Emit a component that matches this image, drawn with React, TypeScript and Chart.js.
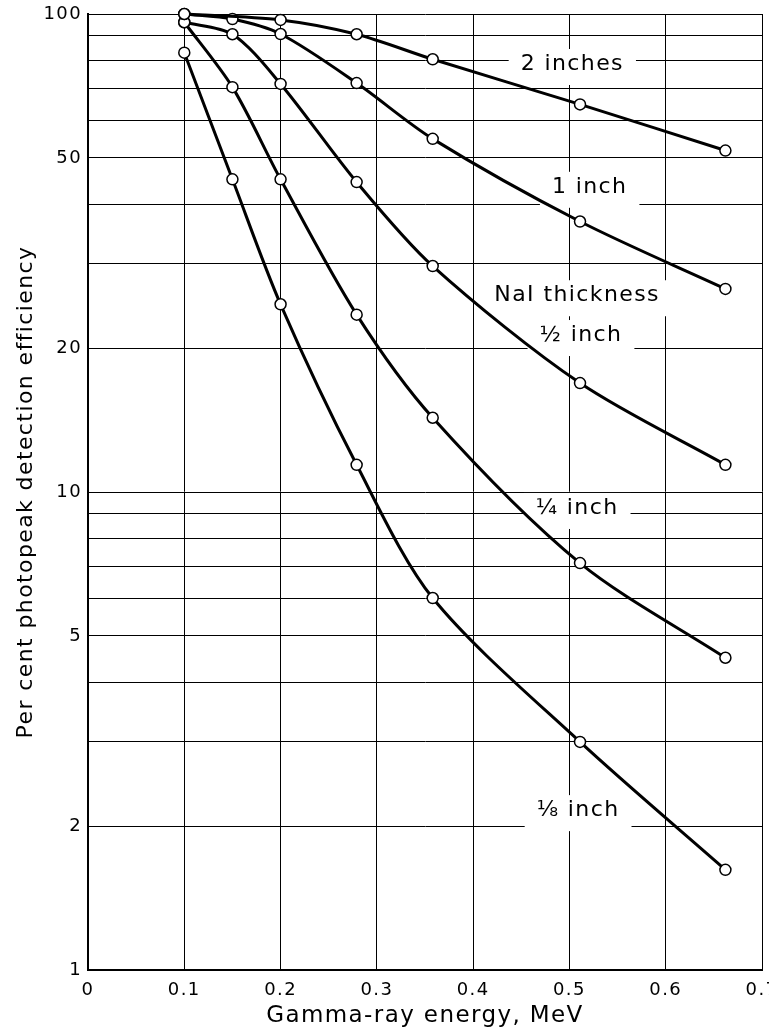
import React, { useEffect, useRef } from 'react';
import { Chart, registerables } from 'chart.js';

Chart.register(...registerables);

// Gamma-ray energies (MeV) at which efficiencies were measured
const energies = [0.1, 0.15, 0.2, 0.279, 0.358, 0.511, 0.662];

// Per cent photopeak detection efficiency for each NaI thickness
const eff2inch = [100, null, 97.2, 90.7, 80.4, 64.7, 51.8];
const eff1inch = [100, 97.6, 90.8, 71.7, 54.8, 36.8, 26.6];
const effHalfInch = [96.1, 90.7, 71.4, 44.5, 29.7, 16.9, 11.4];
const effQuarterInch = [96.1, 70.3, 45.1, 23.5, 14.3, 7.1, 4.5];
const effEighthInch = [83, 45.1, 24.7, 11.4, 6.0, 3.0, 1.62];

const seriesNames = ['2 inches', '1 inch', '½ inch', '¼ inch', '⅛ inch'];
const seriesValues = [eff2inch, eff1inch, effHalfInch, effQuarterInch, effEighthInch];

// Axis ticks
const xTicks = [0, 0.1, 0.2, 0.3, 0.4, 0.5, 0.6, 0.7];
const yGridValues = [1, 2, 3, 4, 5, 6, 7, 8, 9, 10, 20, 30, 40, 50, 60, 70, 80, 90, 100];
const yLabelValues = [1, 2, 5, 10, 20, 50, 100];

// In-plot annotation texts and their anchors (data coordinates)
const noteTexts = ['2 inches', '1 inch', 'NaI thickness', '½ inch', '¼ inch', '⅛ inch'];
const noteX = [0.503, 0.521, 0.508, 0.512, 0.508, 0.509];
const noteY = [78.6, 43.5, 25.8, 21.3, 9.26, 2.16];

const FONT = '"DejaVu Sans", sans-serif';

const letterSpacingPlugin = {
  id: 'letterSpacing',
  beforeDraw(chart: any) {
    chart.ctx.letterSpacing = '1.4px';
  },
};

const notesPlugin = {
  id: 'notes',
  beforeDatasetsDraw(chart: any) {
    const { ctx, scales } = chart;
    ctx.save();
    ctx.letterSpacing = '1.4px';
    ctx.font = `22px ${FONT}`;
    ctx.textAlign = 'center';
    ctx.textBaseline = 'middle';
    noteTexts.forEach((t, i) => {
      const px = scales.x.getPixelForValue(noteX[i]);
      const py = scales.y.getPixelForValue(noteY[i]);
      const w = ctx.measureText(t).width;
      ctx.fillStyle = '#fff';
      ctx.fillRect(px - w / 2 - 12, py - 15, w + 24, 36);
    });
    noteTexts.forEach((t, i) => {
      const px = scales.x.getPixelForValue(noteX[i]);
      const py = scales.y.getPixelForValue(noteY[i]);
      ctx.fillStyle = '#000';
      ctx.fillText(t, px, py);
    });
    ctx.restore();
  },
};

export default function App() {
  const canvasRef = useRef<HTMLCanvasElement | null>(null);

  useEffect(() => {
    document.body.style.margin = '0';
    document.body.style.overflow = 'hidden';
    const canvas = canvasRef.current;
    if (!canvas) return;

    const datasets = seriesValues.map((vals, si) => ({
      label: seriesNames[si],
      data: energies
        .map((x, i) => ({ x, y: vals[i] }))
        .filter((p) => p.y !== null) as { x: number; y: number }[],
      borderColor: '#000',
      borderWidth: 3,
      pointRadius: 5.5,
      pointBackgroundColor: '#fff',
      pointBorderColor: '#000',
      pointBorderWidth: 1.5,
      tension: 0.3,
      fill: false,
      clip: false as any,
    }));

    const chart = new Chart(canvas, {
      type: 'line',
      data: { datasets },
      plugins: [letterSpacingPlugin, notesPlugin],
      options: {
        responsive: false,
        animation: false,
        layout: { padding: { left: 0, right: 7, top: 14, bottom: 0 } },
        plugins: {
          legend: { display: false },
          tooltip: { enabled: false },
        },
        scales: {
          x: {
            type: 'linear',
            min: 0,
            max: 0.7,
            afterBuildTicks: (s: any) => {
              s.ticks = xTicks.map((v) => ({ value: v }));
            },
            ticks: {
              color: '#000',
              font: { family: FONT, size: 18 },
              padding: 10,
              maxRotation: 0,
              autoSkip: false,
              callback: (v: any) => (Number(v) === 0 ? '0' : Number(v).toFixed(1)),
            },
            grid: { color: '#000', lineWidth: 1, drawTicks: false },
            border: { color: '#000', width: 2 },
            title: {
              display: true,
              text: 'Gamma-ray energy, MeV',
              color: '#000',
              font: { family: FONT, size: 23 },
              padding: { top: 0, bottom: 5 },
            },
            afterFit: (s: any) => {
              s.height = 65;
              s.paddingLeft = 0;
              s.paddingRight = 0;
            },
          },
          y: {
            type: 'logarithmic',
            min: 1,
            max: 100,
            afterBuildTicks: (s: any) => {
              s.ticks = yGridValues.map((v) => ({ value: v }));
            },
            ticks: {
              color: '#000',
              font: { family: FONT, size: 18 },
              padding: 6,
              autoSkip: false,
              callback: (v: any) => (yLabelValues.includes(Number(v)) ? String(v) : ''),
            },
            grid: { color: '#000', lineWidth: 1, drawTicks: false },
            border: { color: '#000', width: 2 },
            title: {
              display: true,
              text: 'Per cent photopeak detection efficiency',
              color: '#000',
              font: { family: FONT, size: 22 },
              padding: { top: 13, bottom: 0 },
            },
            afterFit: (s: any) => {
              s.width = 88;
              s.paddingTop = 0;
              s.paddingBottom = 0;
            },
          },
        },
      } as any,
    });

    return () => chart.destroy();
  }, []);

  return (
    <canvas
      ref={canvasRef}
      width={769}
      height={1035}
      style={{ display: 'block', width: 769, height: 1035 }}
    />
  );
}
